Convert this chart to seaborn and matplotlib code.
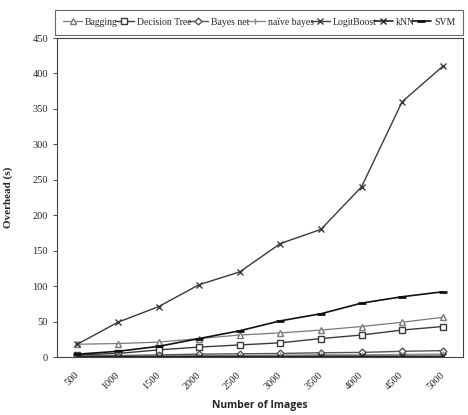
import matplotlib
matplotlib.use("Agg")
import matplotlib.pyplot as plt
import matplotlib.transforms as mtransforms
import seaborn as sns
import pandas as pd

images = [500, 1000, 1500, 2000, 2500, 3000, 3500, 4000, 4500, 5000]
bagging = [18, 19, 21, 26, 31, 34, 38, 43, 49, 56]
decision_tree = [3, 5, 10, 14, 17, 20, 26, 31, 38, 43]
bayes_net = [1.5, 2, 3, 4, 4.5, 5, 6, 6.5, 8, 9]
naive_bayes = [1, 1, 1.5, 2, 2, 2.5, 3, 3, 3.5, 4]
logitboost = [18, 49, 71, 102, 120, 160, 180, 240, 360, 410]
knn = [0.5, 0.5, 0.5, 0.5, 0.5, 0.5, 1, 1, 1, 1]
svm = [4, 8, 15, 26, 37, 51, 61, 76, 85, 92]

series = {
    "Bagging": bagging,
    "Decision Tree": decision_tree,
    "Bayes net": bayes_net,
    "naïve bayes": naive_bayes,
    "LogitBoost": logitboost,
    "kNN": knn,
    "SVM": svm,
}
rows = []
for name, vals in series.items():
    for i, v in enumerate(vals):
        rows.append({"pos": i, "val": v, "method": name})
df = pd.DataFrame(rows)

sns.set_style("white")
plt.rcParams["font.family"] = ["Liberation Serif", "DejaVu Serif"]

fig = plt.figure(figsize=(4.68, 4.15), dpi=100)
ax = fig.add_axes([57/468, 1-357/415, (463-57)/468, (357-38)/415])

styles = {
    "Bagging": dict(marker="^", color="#7a7a7a", mfc="white", ms=5, lw=0.9),
    "Decision Tree": dict(marker="s", color="#3a3a3a", mfc="white", ms=5, lw=1.0),
    "Bayes net": dict(marker="D", color="#555555", mfc="white", ms=3.5, lw=1.0),
    "naïve bayes": dict(marker="|", color="#888888", mfc="white", ms=5, lw=1.0),
    "LogitBoost": dict(marker="x", color="#3a3a3a", mfc="white", ms=5, lw=1.0),
    "kNN": dict(marker="x", color="#222222", mfc="white", ms=5, lw=1.2),
    "SVM": dict(marker="_", color="#111111", mfc="white", ms=6, lw=1.2),
}
for name in series:
    st = styles[name]
    sub = df[df["method"] == name]
    sns.lineplot(data=sub, x="pos", y="val", ax=ax, color=st["color"],
                 marker=st["marker"], markersize=st["ms"], markerfacecolor=st["mfc"],
                 markeredgecolor=st["color"], markeredgewidth=1.0 if name != "SVM" else 2.0,
                 linewidth=st["lw"], label=name)

ax.set_xlim(-0.5, 9.5)
ax.set_ylim(0, 450)
ax.set_yticks(range(0, 451, 50))
ax.set_xticks(range(len(images)))
ax.set_xticklabels([str(v) for v in images], rotation=45, ha="right", va="center",
                   rotation_mode="anchor", fontsize=7.5)
offset = mtransforms.ScaledTranslation(4/100, 0, fig.dpi_scale_trans)
for lbl in ax.get_xticklabels():
    lbl.set_transform(lbl.get_transform() + offset)
ax.tick_params(axis="y", labelsize=7.5, length=3, width=0.6, left=True, direction="out")
ax.tick_params(axis="x", length=0, pad=12)
for s in ax.spines.values():
    s.set_color("#444444")
    s.set_linewidth(0.8)
ax.set_xlabel("Number of Images", fontsize=7.5, fontweight="bold", family=["Open Sans", "DejaVu Sans"], labelpad=6)
ax.set_ylabel("Overhead (s)", fontsize=8, fontweight="bold", labelpad=14)

handles, labels = ax.get_legend_handles_labels()
if ax.get_legend():
    ax.get_legend().remove()
leg = fig.legend(handles, labels, ncol=7, loc="upper left",
                 bbox_to_anchor=(55/468, 1-10/415, (463-55)/468, 0.0),
                 mode="expand", fontsize=7, frameon=True, fancybox=False,
                 handlelength=2.0, handletextpad=0.3, columnspacing=0.3,
                 borderpad=0.8, borderaxespad=0)
leg.get_frame().set_edgecolor("#444444")
leg.get_frame().set_linewidth(0.8)

fig.savefig("out.png", dpi=100)
